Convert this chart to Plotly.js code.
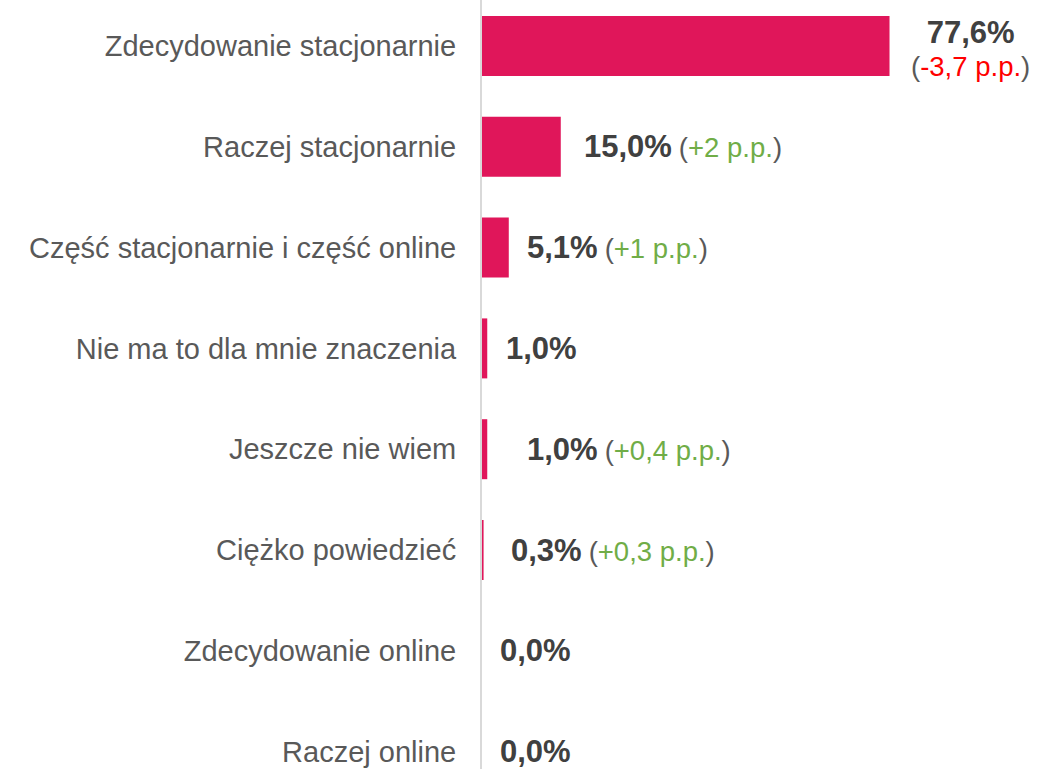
<!DOCTYPE html>
<html>
<head>
<meta charset="utf-8">
<script src="https://cdn.plot.ly/plotly-3.0.1.min.js"></script>
<style>
  html, body { margin: 0; padding: 0; background: #ffffff; }
  #chart { width: 1056px; height: 769px; }
</style>
</head>
<body>
<div id="chart"></div>
<script>
// ---- data ----
var categories = [
  "Zdecydowanie stacjonarnie",
  "Raczej stacjonarnie",
  "Część stacjonarnie i część online",
  "Nie ma to dla mnie znaczenia",
  "Jeszcze nie wiem",
  "Ciężko powiedzieć",
  "Zdecydowanie online",
  "Raczej online"
];
var values = [77.6, 15.0, 5.1, 1.0, 1.0, 0.3, 0.0, 0.0];
var changes = [-3.7, 2, 1, null, 0.4, 0.3, null, null];   // change in p.p.

// ---- style (not data) ----
var barColor = "#E0165A";
var labelShift = [19, 21, 16, 17, 38, 25, 16, 16];        // px gap after bar end
var stacked = [true, false, false, false, false, false, false, false];
var FONT = "'Liberation Sans', Arial, sans-serif";

function fmtPct(v) { return v.toFixed(1).replace(".", ",") + "%"; }
function fmtChange(c) {
  var s = (Math.round(c * 10) / 10).toString().replace(".", ",");
  return (c > 0 ? "+" : "") + s + " p.p.";
}

var annotations = values.map(function (v, i) {
  var main = '<b><span style="font-size:31px;fill:#404040">' + fmtPct(v) + '</span></b>';
  var txt = main;
  if (changes[i] !== null) {
    var col = changes[i] < 0 ? "#FF0000" : "#70AD47";
    var ch = '<span style="font-size:27.5px;fill:#595959">(</span>' +
             '<span style="font-size:27.5px;fill:' + col + '">' + fmtChange(changes[i]) + '</span>' +
             '<span style="font-size:27.5px;fill:#595959">)</span>';
    txt = main + (stacked[i] ? "<br>" : " ") + ch;
  }
  return {
    x: v, y: categories[i], xref: "x", yref: "y",
    text: txt, showarrow: false,
    xanchor: "left", yanchor: "middle",
    xshift: labelShift[i],
    yshift: stacked[i] ? -2 : 0,
    align: "center",
    font: { family: FONT, size: 25, color: "#404040" }
  };
});

var trace = {
  type: "bar",
  orientation: "h",
  x: values,
  y: categories,
  marker: { color: barColor },
  width: 0.595,
  hoverinfo: "none"
};

var layout = {
  width: 1056, height: 769,
  margin: { l: 482, r: 0, t: 0, b: 0, pad: 0 },
  paper_bgcolor: "#ffffff",
  plot_bgcolor: "#ffffff",
  showlegend: false,
  font: { family: FONT },
  xaxis: {
    range: [0, 109.3],
    showgrid: false, zeroline: false, showline: false,
    showticklabels: false, ticks: ""
  },
  yaxis: {
    type: "category",
    range: [7.1726, -0.4563],
    showgrid: false, zeroline: false,
    showline: true, linecolor: "#D9D9D9", linewidth: 2,
    ticks: "", ticklabelstandoff: 18,
    tickfont: { family: FONT, size: 29, color: "#595959" }
  },
  annotations: annotations
};

Plotly.newPlot("chart", [trace], layout, { displayModeBar: false, staticPlot: true });
</script>
</body>
</html>
